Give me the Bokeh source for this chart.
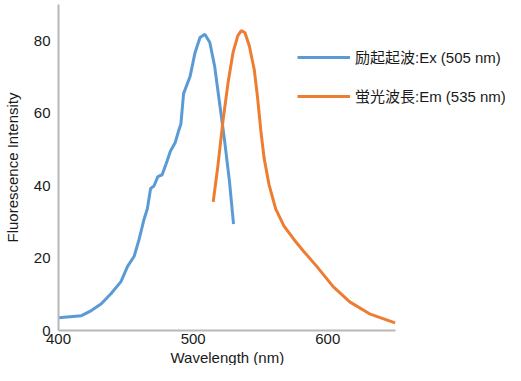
from bokeh.plotting import figure
from bokeh.models import Range1d, FixedTicker, Legend, LegendItem, Title
from bokeh.embed import file_html
from bokeh.resources import INLINE

ex_wavelength = [400, 417.1, 424.4, 431.8, 439.1, 446.4, 451.3, 456.2, 459.9, 463.6, 466,
                 468.4, 470.9, 473.8, 477, 480.6, 483.1, 486.7, 489.2, 490.9, 492.9,
                 497.7, 501.4, 505.1, 508.7, 512.4, 516, 519.7, 523.4, 527, 530]
ex_intensity = [3.5, 4.1, 5.5, 7.4, 10.2, 13.5, 17.7, 20.5, 25.2, 30.8, 33.6,
                39.2, 39.9, 42.5, 43, 46.7, 49.5, 51.9, 55.1, 57, 65.4,
                70.1, 76.7, 80.9, 81.8, 79.5, 72.9, 62.6, 52.3, 41.1, 29.4]

em_wavelength = [514.9, 518.5, 522.2, 525.9, 529.6, 533.2, 535.8, 538.5, 541.7, 545.4,
                 547.8, 550.3, 552.7, 556.4, 561.3, 567.4, 574.7, 582, 591.8, 604,
                 616.3, 631, 650]
em_intensity = [35.5, 45.8, 58, 68.3, 76.7, 81.4, 82.8, 82.2, 78.6, 72,
                64.5, 55.1, 47.6, 40.2, 33.6, 28.9, 25.2, 21.9, 17.7, 12.1,
                7.9, 4.6, 2.1]

x_ticks = [400, 500, 600]
y_ticks = [0, 20, 40, 60, 80]
ex_label = "励起起波:Ex (505 nm)"
em_label = "蛍光波長:Em (535 nm)"
x_title = "Wavelength (nm)"
y_title = "Fluorescence Intensity"

FONT = "Liberation Sans, Noto Sans CJK JP"
AXIS_COLOR = "#b8b8b8"
TEXT_COLOR = "#1a1a1a"

p = figure(width=505, height=365, output_backend="svg", toolbar_location=None,
           x_range=Range1d(400, 732), y_range=Range1d(0, 90),
           min_border_left=52, min_border_top=4, min_border_right=0, min_border_bottom=0)
p.outline_line_color = None
p.grid.visible = False

r1 = p.line(ex_wavelength, ex_intensity, line_color="#5b9bd5", line_width=3)
r2 = p.line(em_wavelength, em_intensity, line_color="#ed7d31", line_width=3)

for ax in (p.xaxis[0], p.yaxis[0]):
    ax.axis_line_color = AXIS_COLOR
    ax.axis_line_width = 2
    ax.major_tick_line_color = None
    ax.minor_tick_line_color = None
    ax.major_tick_out = 0
    ax.major_tick_in = 0
    ax.major_label_text_font = FONT
    ax.major_label_text_font_size = "15px"
    ax.major_label_text_color = TEXT_COLOR
    ax.axis_label_text_font = FONT
    ax.axis_label_text_font_size = "15px"
    ax.axis_label_text_font_style = "normal"
    ax.axis_label_text_color = TEXT_COLOR

p.xaxis[0].bounds = (400, 650)
p.xaxis[0].ticker = FixedTicker(ticks=x_ticks)
p.yaxis[0].ticker = FixedTicker(ticks=y_ticks)
p.yaxis[0].axis_label = y_title
p.xaxis[0].major_label_standoff = 3
p.yaxis[0].major_label_standoff = 8
p.yaxis[0].axis_label_standoff = 10

p.add_layout(Title(text=x_title, align="left", offset=112, standoff=0,
                   text_font=FONT, text_font_size="15px", text_font_style="normal",
                   text_color=TEXT_COLOR), "below")

legend = Legend(items=[LegendItem(label=ex_label, renderers=[r1]),
                       LegendItem(label=em_label, renderers=[r2])],
                location=(239, 224), orientation="vertical",
                glyph_width=53, glyph_height=20, label_height=20,
                label_standoff=5, spacing=18, padding=0, margin=0,
                border_line_color=None, background_fill_alpha=0,
                label_text_font=FONT, label_text_font_size="15px",
                label_text_color=TEXT_COLOR)
p.add_layout(legend, "center")

open("out.html", "w").write(file_html(p, INLINE))
